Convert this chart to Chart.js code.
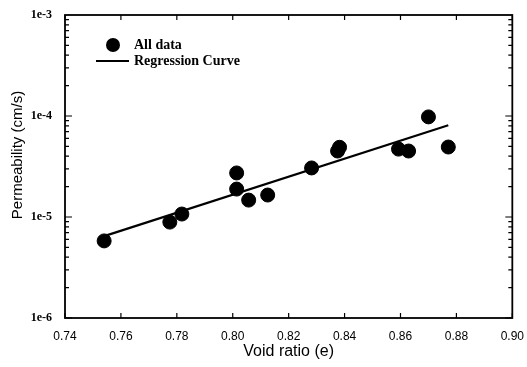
<!DOCTYPE html>
<html><head><meta charset="utf-8">
<script src="https://cdn.jsdelivr.net/npm/chart.js@4/dist/chart.umd.min.js"></script>
<style>html,body{margin:0;padding:0;background:#fff}#wrap{width:527px;height:367px}</style>
</head><body><div id="wrap"><canvas id="c" width="527" height="367"></canvas></div>
<script>
// Data
const voidRatio    = [0.7540, 0.7775, 0.7818, 0.8014, 0.8014, 0.8057, 0.8125, 0.8282, 0.8382, 0.8375, 0.8593, 0.8629, 0.8700, 0.8771];
const permeability = [5.8e-6, 8.9e-6, 1.07e-5, 2.73e-5, 1.89e-5, 1.47e-5, 1.65e-5, 3.06e-5, 4.9e-5, 4.5e-5, 4.7e-5, 4.5e-5, 9.8e-5, 4.93e-5];
const regressionX  = [0.7543, 0.8771];
const regressionY  = [6.5e-6, 8.1e-5];
const xTickValues  = [0.74, 0.76, 0.78, 0.80, 0.82, 0.84, 0.86, 0.88, 0.90];
const yTickValues  = [1e-6, 1e-5, 1e-4, 1e-3];
const yTickLabels  = ['1e-6', '1e-5', '1e-4', '1e-3'];
const legendLabels = ['All data', 'Regression Curve'];
const yTitle = 'Permeability (cm/s)';

const framePlugin = {
  id: 'frame',
  afterDraw(chart) {
    const {ctx, chartArea: a, scales: {x, y}} = chart;
    ctx.save();
    ctx.strokeStyle = '#000';
    ctx.lineWidth = 1.8;
    ctx.strokeRect(a.left, a.top, a.right - a.left, a.bottom - a.top);
    ctx.lineWidth = 1.2;
    ctx.beginPath();
    xTickValues.forEach(v => {
      const px = x.getPixelForValue(v);
      ctx.moveTo(px, a.bottom); ctx.lineTo(px, a.bottom - 5);
      ctx.moveTo(px, a.top); ctx.lineTo(px, a.top + 5);
    });
    for (let e = -6; e < -3; e++) {
      for (let m = 1; m <= 9; m++) {
        const py = y.getPixelForValue(m * Math.pow(10, e));
        const len = m === 1 ? 7 : 4;
        ctx.moveTo(a.left, py); ctx.lineTo(a.left + len, py);
        ctx.moveTo(a.right, py); ctx.lineTo(a.right - len, py);
      }
    }
    ctx.stroke();
    // legend
    const lx = 113, ly1 = 45, ly2 = 61;
    ctx.fillStyle = '#000';
    ctx.beginPath(); ctx.arc(lx, ly1, 7, 0, Math.PI * 2); ctx.fill();
    ctx.lineWidth = 2.2;
    ctx.beginPath(); ctx.moveTo(96, ly2); ctx.lineTo(129, ly2); ctx.stroke();
    ctx.font = 'bold 14px "Liberation Serif", serif';
    ctx.textBaseline = 'middle';
    ctx.textAlign = 'left';
    ctx.fillText(legendLabels[0], 134, ly1);
    ctx.fillText(legendLabels[1], 134, ly2);
    // y axis title
    ctx.translate(18, 155);
    ctx.rotate(-Math.PI / 2);
    ctx.textAlign = 'center';
    ctx.font = '15px "Liberation Sans", Arial, sans-serif';
    ctx.fillText(yTitle, 0, 0);
    ctx.restore();
  }
};

new Chart(document.getElementById('c'), {
  type: 'scatter',
  data: {
    datasets: [
      {
        label: legendLabels[0],
        data: voidRatio.map((v, i) => ({x: v, y: permeability[i]})),
        backgroundColor: '#000', borderColor: '#000',
        pointRadius: 7, pointHoverRadius: 7, order: 1
      },
      {
        label: legendLabels[1],
        type: 'line',
        data: regressionX.map((v, i) => ({x: v, y: regressionY[i]})),
        borderColor: '#000', borderWidth: 2.2, pointRadius: 0, fill: false, order: 2
      }
    ]
  },
  options: {
    responsive: false, animation: false, devicePixelRatio: 1,
    layout: {padding: {top: 15, right: 14, left: 0, bottom: 0}},
    plugins: {legend: {display: false}, tooltip: {enabled: false}},
    scales: {
      x: {
        type: 'linear', min: 0.74, max: 0.90,
        afterBuildTicks: s => { s.ticks = xTickValues.map(v => ({value: v})); },
        afterFit: s => { s.height = 49; },
        grid: {display: false}, border: {display: false},
        ticks: {
          callback: v => v.toFixed(2), color: '#000', padding: 3, maxRotation: 0,
          font: {family: '"Liberation Sans", Arial, sans-serif', size: 12}
        },
        title: {display: true, text: 'Void ratio (e)', color: '#000', padding: {top: 0, bottom: 6},
          font: {family: '"Liberation Sans", Arial, sans-serif', size: 16}}
      },
      y: {
        type: 'logarithmic', min: 1e-6, max: 1e-3,
        afterBuildTicks: s => { s.ticks = yTickValues.map(v => ({value: v})); },
        afterFit: s => { s.width = 65; },
        grid: {display: false}, border: {display: false},
        ticks: {
          callback: (v) => { const i = yTickValues.findIndex(t => Math.abs(t - v) / t < 1e-6); return i >= 0 ? yTickLabels[i] : ''; },
          color: '#000', padding: 5,
          font: {family: '"Liberation Serif", "Times New Roman", serif', size: 12, weight: 'bold'}
        },
        title: {display: false}
      }
    }
  },
  plugins: [framePlugin]
});
</script></body></html>
